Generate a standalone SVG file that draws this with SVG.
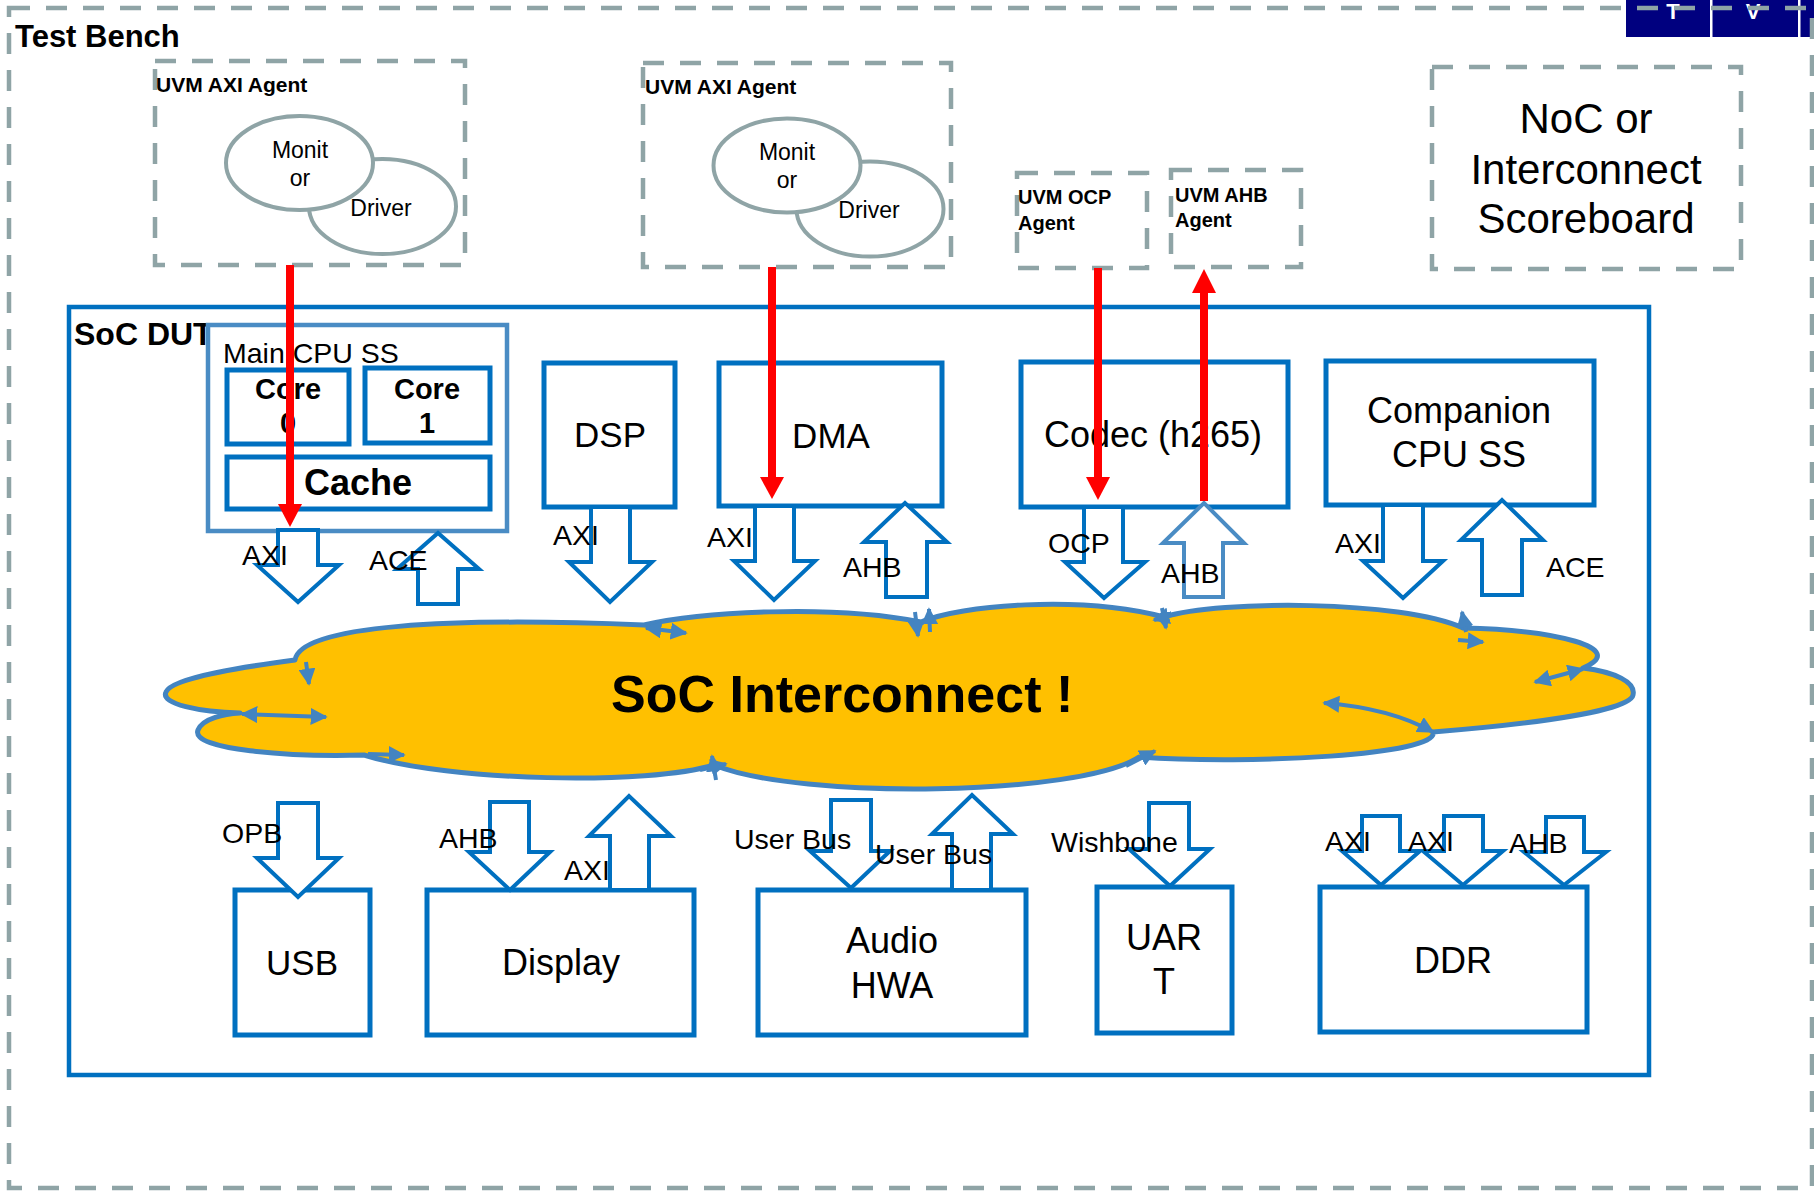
<svg xmlns="http://www.w3.org/2000/svg" width="1814" height="1191" viewBox="0 0 1814 1191">
  <style>
    .t { font-family: "Liberation Sans", Arial, sans-serif; fill: #000; }
    .b { font-weight: bold; }
    .m { text-anchor: middle; }
    .lbl { font-size: 28.5px; }
    .agt { font-size: 20px; font-weight: bold; }
    .ell { font-size: 23px; text-anchor: middle; }
    .dash { fill: none; stroke: #8FA4A6; stroke-width: 4.5; stroke-dasharray: 21 16; }
    .box { fill: #fff; stroke: #0070C0; stroke-width: 5; }
    .ba { fill: #fff; stroke: #0070C0; stroke-width: 4; stroke-linejoin: miter; }
    .ba2 { fill: #fff; stroke: #4A8CC4; stroke-width: 4; stroke-linejoin: miter; }
    .ov { fill: #fff; stroke: #8FA4A6; stroke-width: 4; }
    .red { stroke: #FF0000; stroke-width: 8; fill: none; }
    .redh { fill: #FF0000; }
    .cl { fill: none; stroke: #4384C1; stroke-width: 4; }
    .logo { font-family: "Liberation Sans", Arial, sans-serif; font-weight: bold; fill: #fff; text-anchor: middle; }
  </style>
  <defs>
    <marker id="ch" viewBox="0 0 10 10" refX="9" refY="5" markerWidth="17" markerHeight="17" markerUnits="userSpaceOnUse" orient="auto-start-reverse">
      <path d="M0,0 L10,5 L0,10 z" fill="#4384C1"/>
    </marker>
  </defs>

  <rect width="1814" height="1191" fill="#fff"/>

  <!-- corner logo strip -->
  <g id="logo-strip">
    <rect x="1626" y="0" width="188" height="37" fill="#00007F"/>
    <rect x="1710" y="0" width="2.5" height="37" fill="#fff"/>
    <rect x="1798" y="0" width="2.5" height="37" fill="#fff"/>
    <text class="logo" x="1673" y="19" font-size="22">T</text>
    <text class="logo" x="1753" y="19" font-size="22">V</text>
  </g>

  <!-- test bench frame -->
  <g id="testbench">
    <rect class="dash" x="9" y="8" width="1803" height="1180"/>
    <text class="t b" x="15" y="47" font-size="31">Test Bench</text>
  </g>

  <!-- UVM agents -->
  <g id="agent-axi-1">
    <rect class="dash" x="155" y="61" width="310" height="204"/>
    <text class="t b" x="156" y="92" font-size="21">UVM AXI Agent</text>
    <ellipse class="ov" cx="382.5" cy="206.5" rx="73.5" ry="47.5"/>
    <ellipse class="ov" cx="299.5" cy="163" rx="73.5" ry="47"/>
    <text class="t ell" x="300" y="158">Monit</text>
    <text class="t ell" x="300" y="186">or</text>
    <text class="t ell" x="381" y="216">Driver</text>
  </g>

  <g id="agent-axi-2">
    <rect class="dash" x="643" y="63" width="308" height="204"/>
    <text class="t b" x="645" y="94" font-size="21">UVM AXI Agent</text>
    <ellipse class="ov" cx="870" cy="209" rx="73.5" ry="47.5"/>
    <ellipse class="ov" cx="787" cy="165.5" rx="73.5" ry="47"/>
    <text class="t ell" x="787" y="160">Monit</text>
    <text class="t ell" x="787" y="188">or</text>
    <text class="t ell" x="869" y="218">Driver</text>
  </g>

  <g id="agent-ocp">
    <rect class="dash" x="1017" y="173" width="130" height="95"/>
    <text class="t agt" x="1018" y="204">UVM OCP</text>
    <text class="t agt" x="1018" y="230">Agent</text>
  </g>

  <g id="agent-ahb">
    <rect class="dash" x="1171" y="170" width="130" height="97"/>
    <text class="t agt" x="1175" y="202">UVM AHB</text>
    <text class="t agt" x="1175" y="227">Agent</text>
  </g>

  <g id="scoreboard">
    <rect class="dash" x="1432" y="67" width="309" height="202"/>
    <text class="t m" x="1586" y="133" font-size="42">NoC or</text>
    <text class="t m" x="1586" y="184" font-size="42">Interconnect</text>
    <text class="t m" x="1586" y="233" font-size="42">Scoreboard</text>
  </g>

  <!-- design under test -->
  <g id="soc-dut">
    <rect x="69" y="307" width="1580" height="768" fill="none" stroke="#0070C0" stroke-width="4.5"/>
    <text class="t b" x="74" y="345" font-size="32">SoC DUT</text>
  </g>

  <g id="main-cpu-ss">
    <rect x="208" y="325" width="299" height="206" fill="none" stroke="#4A8CC4" stroke-width="4.5"/>
    <text class="t" x="223" y="363" font-size="28.5">Main CPU SS</text>
    <rect class="box" x="227" y="370" width="122" height="74"/>
    <text class="t b m" x="288" y="399" font-size="29">Core</text>
    <text class="t b m" x="288" y="433" font-size="29">0</text>
    <rect class="box" x="365" y="368" width="125" height="75"/>
    <text class="t b m" x="427" y="399" font-size="29">Core</text>
    <text class="t b m" x="427" y="433" font-size="29">1</text>
    <rect class="box" x="227" y="457" width="263" height="52"/>
    <text class="t b m" x="358" y="495" font-size="36">Cache</text>
  </g>

  <g id="dsp">
    <rect class="box" x="544" y="363" width="131" height="144"/>
    <text class="t m" x="610" y="447" font-size="35">DSP</text>
  </g>

  <g id="dma">
    <rect class="box" x="719" y="363" width="223" height="143"/>
    <text class="t m" x="831" y="448" font-size="35">DMA</text>
  </g>

  <g id="codec">
    <rect class="box" x="1021" y="362" width="267" height="145"/>
    <text class="t m" x="1153" y="447" font-size="36">Codec (h265)</text>
  </g>

  <g id="companion-cpu-ss">
    <rect class="box" x="1326" y="361" width="268" height="144"/>
    <text class="t m" x="1459" y="423" font-size="36">Companion</text>
    <text class="t m" x="1459" y="467" font-size="36">CPU SS</text>
  </g>

  <!-- interconnect cloud with its internal link arrows -->
  <g id="soc-interconnect">
    <path d="M295,660 C300,625 450,617 644,625 C700,612 830,604 921,622 C960,605 1080,595 1164,617 C1220,600 1400,600 1463,628 C1555,630 1630,648 1583,668 C1615,672 1636,682 1633,695 C1630,712 1520,725 1433,732 C1440,755 1250,765 1139,757 C1080,796 800,800 714,765 C650,785 450,782 364,755 C290,757 190,750 198,730 C203,718 225,714 240,713 C200,712 160,704 166,692 C172,677 250,666 295,660 Z" fill="#FFC000" stroke="#4384C1" stroke-width="5" stroke-linejoin="round"/>
    <path class="cl" d="M306,662 L309,684" marker-end="url(#ch)"/>
    <path class="cl" d="M646,628 L686,633" marker-start="url(#ch)" marker-end="url(#ch)"/>
    <path class="cl" d="M242,714 L326,717" marker-start="url(#ch)" marker-end="url(#ch)"/>
    <path class="cl" d="M368,754 L404,755" marker-end="url(#ch)"/>
    <path class="cl" d="M700,770 L726,764" marker-end="url(#ch)"/>
    <path class="cl" d="M716,780 L712,756" marker-end="url(#ch)"/>
    <path class="cl" d="M915,612 L918,636" marker-end="url(#ch)"/>
    <path class="cl" d="M930,632 L929,609" marker-end="url(#ch)"/>
    <path class="cl" d="M1175,614 L1154,620" marker-end="url(#ch)"/>
    <path class="cl" d="M1162,608 L1166,628" marker-end="url(#ch)"/>
    <path class="cl" d="M1126,766 L1155,751" marker-end="url(#ch)"/>
    <path class="cl" d="M1466,632 L1462,612" marker-end="url(#ch)"/>
    <path class="cl" d="M1458,640 L1483,642" marker-end="url(#ch)"/>
    <path class="cl" d="M1324,703 Q1390,708 1433,732" marker-start="url(#ch)" marker-end="url(#ch)"/>
    <path class="cl" d="M1535,682 L1583,669" marker-start="url(#ch)" marker-end="url(#ch)"/>
    <text class="t b" x="611" y="712" font-size="52">SoC Interconnect !</text>
  </g>

  <!-- peripherals -->
  <g id="usb">
    <rect class="box" x="235" y="890" width="135" height="145"/>
    <text class="t m" x="302" y="975" font-size="35">USB</text>
  </g>

  <g id="display">
    <rect class="box" x="427" y="890" width="267" height="145"/>
    <text class="t m" x="561" y="975" font-size="36">Display</text>
  </g>

  <g id="audio-hwa">
    <rect class="box" x="758" y="890" width="268" height="145"/>
    <text class="t m" x="892" y="953" font-size="36">Audio</text>
    <text class="t m" x="892" y="998" font-size="36">HWA</text>
  </g>

  <g id="uart">
    <rect class="box" x="1097" y="887" width="135" height="146"/>
    <text class="t m" x="1164" y="950" font-size="36">UAR</text>
    <text class="t m" x="1164" y="994" font-size="36">T</text>
  </g>

  <g id="ddr">
    <rect class="box" x="1320" y="887" width="267" height="145"/>
    <text class="t m" x="1453" y="973" font-size="36">DDR</text>
  </g>

  <!-- bus connectors -->
  <g id="connectors">
    <!-- block arrows towards / from the interconnect -->
    <polygon class="ba" points="278,530 318,530 318,565 339,565 298,602 257,565 278,565"/>
    <polygon class="ba" points="418,604 458,604 458,569 479,569 438,533 397,569 418,569"/>
    <polygon class="ba" points="591,507 630,507 630,562 652,562 610,602 569,562 591,562"/>
    <polygon class="ba" points="755,506 794,506 794,561 815,561 774,600 734,561 755,561"/>
    <polygon class="ba" points="886,597 927,597 927,542 947,542 905,503 864,542 886,542"/>
    <polygon class="ba" points="1084,507 1123,507 1123,562 1145,562 1104,598 1065,562 1084,562"/>
    <polygon class="ba2" points="1184,597 1223,597 1223,543 1244,543 1204,503 1163,543 1184,543"/>
    <polygon class="ba" points="1383,505 1423,505 1423,561 1443,561 1403,598 1363,561 1383,561"/>
    <polygon class="ba" points="1482,595 1522,595 1522,540 1543,540 1502,500 1461,540 1482,540"/>

    <polygon class="ba" points="278,803 318,803 318,858 339,858 298,897 257,858 278,858"/>
    <polygon class="ba" points="490,802 529,802 529,852 550,852 510,890 469,852 490,852"/>
    <polygon class="ba" points="610,890 649,890 649,836 671,836 629,796 589,836 610,836"/>
    <polygon class="ba" points="831,800 871,800 871,851 890,851 851,888 810,851 831,851"/>
    <polygon class="ba" points="952,890 991,890 991,834 1013,834 972,795 932,834 952,834"/>
    <polygon class="ba" points="1149,803 1189,803 1189,849 1210,849 1170,886 1129,849 1149,849"/>
    <polygon class="ba" points="1362,816 1400,816 1400,851 1420,851 1381,885 1342,851 1362,851"/>
    <polygon class="ba" points="1444,816 1483,816 1483,851 1503,851 1463,885 1423,851 1444,851"/>
    <polygon class="ba" points="1546,817 1584,817 1584,852 1606,852 1564,885 1524,852 1546,852"/>

    <!-- bus labels -->
    <text class="t lbl" x="242" y="565">AXI</text>
    <text class="t lbl" x="369" y="570">ACE</text>
    <text class="t lbl" x="553" y="545">AXI</text>
    <text class="t lbl" x="707" y="547">AXI</text>
    <text class="t lbl" x="843" y="577">AHB</text>
    <text class="t lbl" x="1048" y="553">OCP</text>
    <text class="t lbl" x="1161" y="583">AHB</text>
    <text class="t lbl" x="1335" y="553">AXI</text>
    <text class="t lbl" x="1546" y="577">ACE</text>
    <text class="t lbl" x="222" y="843">OPB</text>
    <text class="t lbl" x="439" y="848">AHB</text>
    <text class="t lbl" x="564" y="880">AXI</text>
    <text class="t lbl" x="734" y="849">User Bus</text>
    <text class="t lbl" x="875" y="864">User Bus</text>
    <text class="t lbl" x="1051" y="852">Wishbone</text>
    <text class="t lbl" x="1325" y="851">AXI</text>
    <text class="t lbl" x="1408" y="851">AXI</text>
    <text class="t lbl" x="1509" y="853">AHB</text>

    <!-- agent links -->
    <line class="red" x1="290" y1="265" x2="290" y2="506"/>
    <polygon class="redh" points="278,504 302,504 290,527"/>
    <line class="red" x1="772" y1="267" x2="772" y2="479"/>
    <polygon class="redh" points="760,477 784,477 772,499"/>
    <line class="red" x1="1098" y1="268" x2="1098" y2="479"/>
    <polygon class="redh" points="1086,477 1110,477 1098,500"/>
    <line class="red" x1="1204" y1="501" x2="1204" y2="291"/>
    <polygon class="redh" points="1192,293 1216,293 1204,269"/>
  </g>
</svg>
